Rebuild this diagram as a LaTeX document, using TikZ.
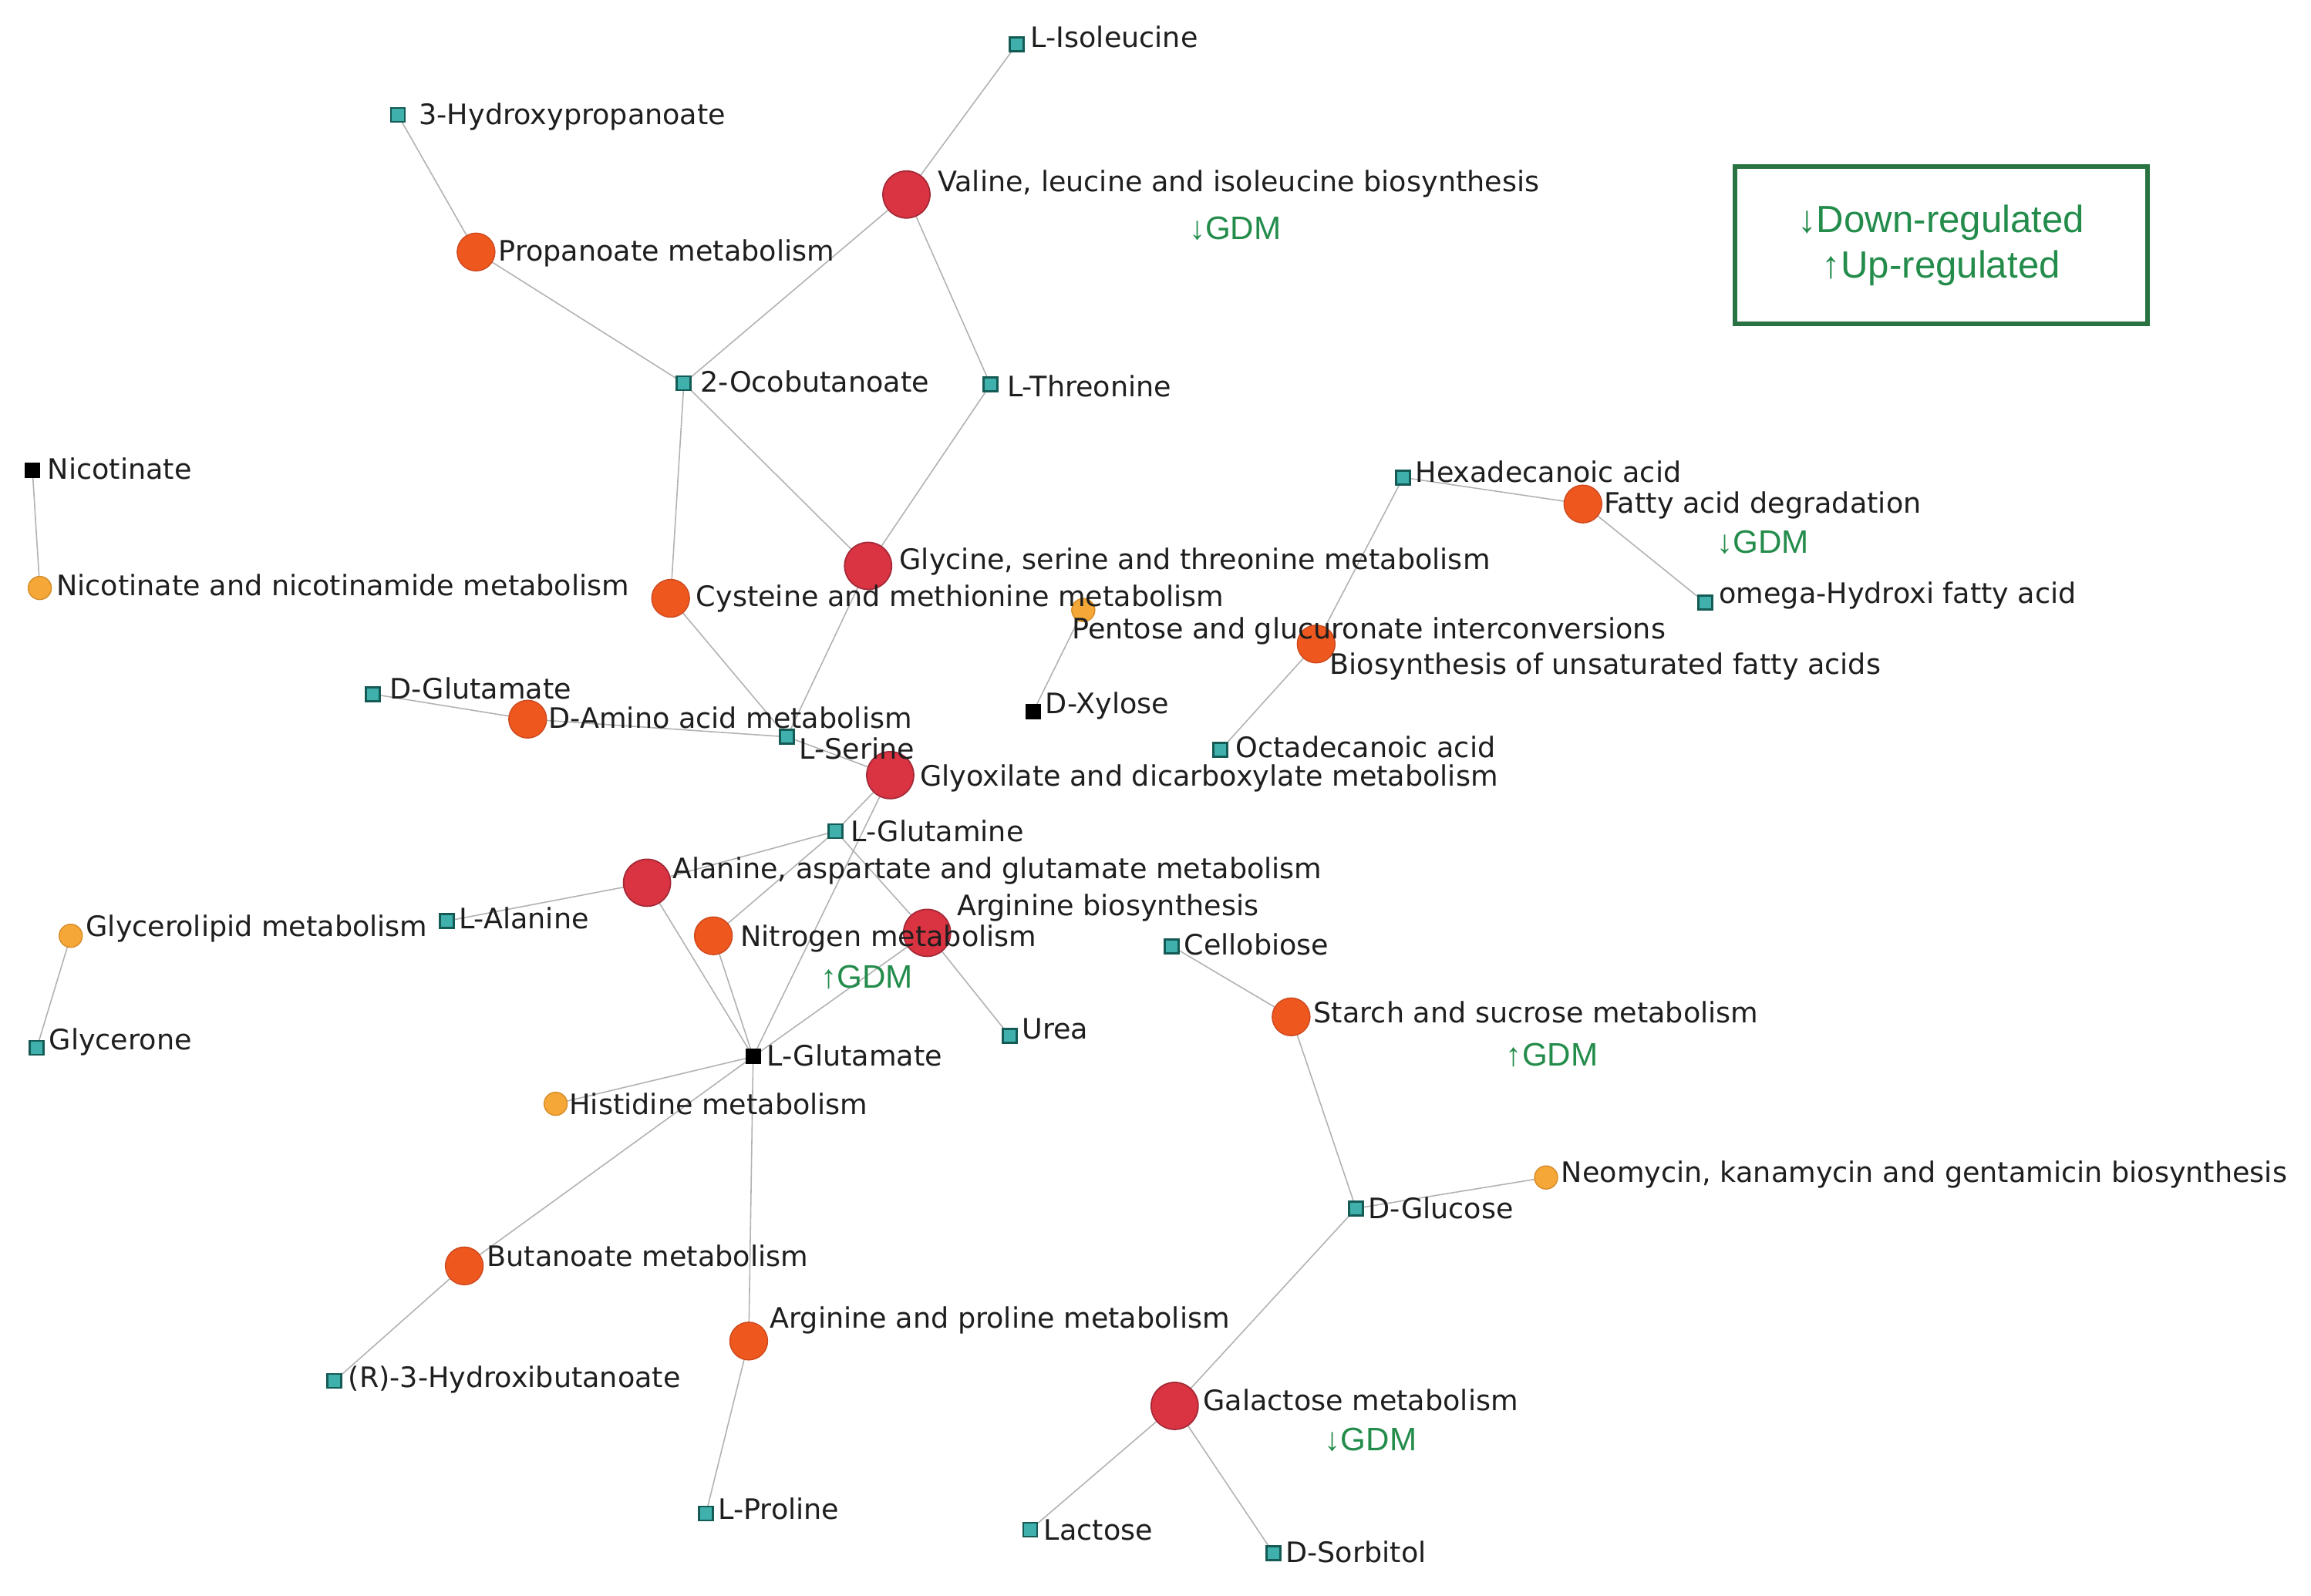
\documentclass[tikz,border=0pt]{standalone}
\usepackage{fontspec}
\setmainfont{DejaVu Sans}
\newfontfamily\gdmfont{Liberation Sans}
\usetikzlibrary{backgrounds}
\definecolor{redc}{RGB}{218,52,66}
\definecolor{redd}{RGB}{165,40,55}
\definecolor{orc}{RGB}{238,88,30}
\definecolor{ord}{RGB}{205,72,30}
\definecolor{yec}{RGB}{245,168,55}
\definecolor{yed}{RGB}{215,140,40}
\definecolor{tealc}{RGB}{64,176,172}
\definecolor{teald}{RGB}{20,90,85}
\definecolor{edgec}{RGB}{178,178,178}
\definecolor{gdmc}{RGB}{35,140,75}
\definecolor{boxc}{RGB}{40,115,65}
\definecolor{txtc}{RGB}{30,30,30}
\begin{document}
\begin{tikzpicture}[x=0.019114cm,y=-0.019114cm,
 big/.style={circle,fill=redc,draw=redd,line width=0.5pt,minimum size=0.61cm,inner sep=0},
 mid/.style={circle,fill=orc,draw=ord,line width=0.4pt,minimum size=0.49cm,inner sep=0},
 sml/.style={circle,fill=yec,draw=yed,line width=0.4pt,minimum size=0.30cm,inner sep=0},
 met/.style={rectangle,fill=tealc,draw=teald,line width=0.8pt,minimum size=0.18cm,inner sep=0},
 blk/.style={rectangle,fill=black,minimum size=0.20cm,inner sep=0},
 lab/.style={anchor=west,inner sep=0,text=txtc,font=\fontsize{10.4}{12}\selectfont},
 gdm/.style={text=gdmc,inner sep=0,font=\gdmfont\fontsize{12}{14}\selectfont},
 edge/.style={draw=edgec,line width=0.45pt}]
\useasboundingbox (0,0) rectangle (1568,1083);
% metabolites
\node[met] (ile) at (690,30) {};
\node[met] (hpr) at (270,78) {};
\node[met] (ocb) at (464,260) {};
\node[met] (thr) at (672,261) {};
\node[blk] (nic) at (22,319) {};
\node[met] (hex) at (952,324) {};
\node[met] (omg) at (1157,409) {};
\node[met] (dglu) at (253,471) {};
\node[blk] (xyl) at (701,483) {};
\node[met] (ser) at (534,500) {};
\node[met] (oct) at (828,509) {};
\node[met] (gln) at (567,564) {};
\node[met] (lala) at (303,625) {};
\node[met] (cel) at (795,642) {};
\node[met] (glyc) at (25,711) {};
\node[met] (urea) at (685,703) {};
\node[blk] (glu) at (511,717) {};
\node[met] (glc) at (920,820) {};
\node[met] (hbu) at (227,937) {};
\node[met] (pro) at (479,1027) {};
\node[met] (lac) at (699,1038) {};
\node[met] (sor) at (864,1054) {};
% pathways
\node[big] (val) at (615,132) {};
\node[big] (gst) at (589,384) {};
\node[big] (glx) at (604,526) {};
\node[big] (aag) at (439,599) {};
\node[big] (arg) at (629,633) {};
\node[big] (gal) at (797,954) {};
\node[mid] (prop) at (323,171) {};
\node[mid] (cys) at (455,406) {};
\node[mid] (fad) at (1074,342) {};
\node[mid] (bufa) at (893,437) {};
\node[mid] (dam) at (358,488) {};
\node[mid] (nit) at (484,635) {};
\node[mid] (sta) at (876,690) {};
\node[mid] (but) at (315,859) {};
\node[mid] (arp) at (508,910) {};
\node[sml] (nnm) at (27,399) {};
\node[sml] (pen) at (735,414) {};
\node[sml] (gll) at (48,635) {};
\node[sml] (his) at (377,749) {};
\node[sml] (neo) at (1049,799) {};
% labels
\node[lab] (tile) at (699,25) {L-Isoleucine};
\node[lab] (thpr) at (284,79) {3-Hydroxypropanoate};
\node[lab] (tval) at (636,125) {Valine, leucine and isoleucine biosynthesis};
\node[lab] (tprop) at (338,172) {Propanoate metabolism};
\node[lab] (tocb) at (475,259) {2-Ocobutanoate};
\node[lab] (tthr) at (683,262) {L-Threonine};
\node[lab] (tnic) at (32,318) {Nicotinate};
\node[lab] (thex) at (960,320) {Hexadecanoic acid};
\node[lab] (tfad) at (1088,343) {Fatty acid degradation};
\node[lab] (tgst) at (610,381) {Glycine, serine and threonine metabolism};
\node[lab] (tnnm) at (38,397) {Nicotinate and nicotinamide metabolism};
\node[lab] (tcys) at (472,406) {Cysteine and methionine metabolism};
\node[lab] (tomg) at (1166,404) {omega-Hydroxi fatty acid};
\node[lab] (tpen) at (727,428) {Pentose and glucuronate interconversions};
\node[lab] (tbufa) at (902,452) {Biosynthesis of unsaturated fatty acids};
\node[lab] (tdglu) at (264,467) {D-Glutamate};
\node[lab] (txyl) at (709,479) {D-Xylose};
\node[lab] (tdam) at (372,487) {D-Amino acid metabolism};
\node[lab] (tser) at (542,508) {L-Serine};
\node[lab] (toct) at (838,507) {Octadecanoic acid};
\node[lab] (tglx) at (624,528) {Glyoxilate and dicarboxylate metabolism};
\node[lab] (tgln) at (577,564) {L-Glutamine};
\node[lab] (taag) at (456,591) {Alanine, aspartate and glutamate metabolism};
\node[lab] (targ) at (649,616) {Arginine biosynthesis};
\node[lab] (tgll) at (58,630) {Glycerolipid metabolism};
\node[lab] (tlala) at (311,623) {L-Alanine};
\node[lab] (tnit) at (502,637) {Nitrogen metabolism};
\node[lab] (tcel) at (803,641) {Cellobiose};
\node[lab] (tsta) at (891,687) {Starch and sucrose metabolism};
\node[lab] (turea) at (693,698) {Urea};
\node[lab] (tglyc) at (33,707) {Glycerone};
\node[lab] (tglu) at (520,716) {L-Glutamate};
\node[lab] (this) at (386,749) {Histidine metabolism};
\node[lab] (tneo) at (1059,797) {Neomycin, kanamycin and gentamicin biosynthesis};
\node[lab] (tglc) at (928,820) {D-Glucose};
\node[lab] (tbut) at (330,852) {Butanoate metabolism};
\node[lab] (tarp) at (522,896) {Arginine and proline metabolism};
\node[lab] (thbu) at (236,936) {(R)-3-Hydroxibutanoate};
\node[lab] (tgal) at (816,950) {Galactose metabolism};
\node[lab] (tpro) at (487,1024) {L-Proline};
\node[lab] (tlac) at (708,1038) {Lactose};
\node[lab] (tsor) at (872,1053) {D-Sorbitol};
% GDM marks
\node[gdm] (g1) at (838,155) {↓GDM};
\node[gdm] (g2) at (1196,368) {↓GDM};
\node[gdm] (g3) at (588,663) {↑GDM};
\node[gdm] (g4) at (1053,716) {↑GDM};
\node[gdm] (g5) at (930,977) {↓GDM};
% legend
\node[draw=boxc,line width=1.7pt,minimum width=5.35cm,minimum height=2.045cm,align=center,text=gdmc,font=\gdmfont\fontsize{14}{16.8}\selectfont] (legend) at (1317,166.5) {↓Down-regulated\\↑Up-regulated};
% edges
\begin{scope}[on background layer]
\foreach \a/\b in {ile/val,val/ocb,val/thr,hpr/prop,prop/ocb,ocb/cys,ocb/gst,thr/gst,nic/nnm,cys/ser,gst/ser,dglu/dam,dam/ser,ser/glx,glx/gln,glx/glu,gln/aag,gln/nit,gln/arg,aag/lala,aag/glu,nit/glu,arg/glu,arg/urea,glu/his,glu/but,glu/arp,but/hbu,arp/pro,gll/glyc,cel/sta,sta/glc,glc/neo,glc/gal,gal/lac,gal/sor,hex/fad,fad/omg,hex/bufa,bufa/oct,pen/xyl}
  \draw[edge] (\a.center) -- (\b.center);
\end{scope}
\end{tikzpicture}
\end{document}
